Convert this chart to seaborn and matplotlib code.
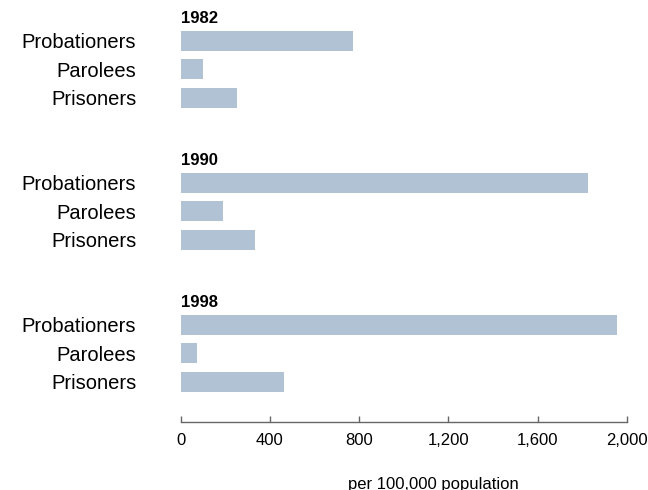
import matplotlib
matplotlib.use("Agg")
import matplotlib.pyplot as plt
import seaborn as sns
import pandas as pd

years = ["1982", "1990", "1998"]
measures = ["Probationers", "Parolees", "Prisoners"]
values_1982 = [771, 101, 251]
values_1990 = [1828, 190, 333]
values_1998 = [1955, 73, 462]
x_ticks = [0, 400, 800, 1200, 1600, 2000]
x_tick_labels = ["0", "400", "800", "1,200", "1,600", "2,000"]
x_label = "per 100,000 population"

sns.set_theme(style="white")
plt.rcParams["font.family"] = ["Liberation Sans", "DejaVu Sans"]
plt.rcParams["text.color"] = "black"
plt.rcParams["xtick.color"] = "#666666"
plt.rcParams["xtick.labelcolor"] = "black"
plt.rcParams["ytick.labelcolor"] = "black"

rows = []
for g, (yr, vals) in enumerate(zip(years, [values_1982, values_1990, values_1998])):
    for i, (m, v) in enumerate(zip(measures, vals)):
        rows.append({"year": yr, "measure": m, "value": v, "pos": g * 5 + i})
df = pd.DataFrame(rows)

fig = plt.figure(figsize=(6.48, 4.9), dpi=100)
ax = fig.add_axes([180.7 / 648, 68 / 490, 446 / 648, 422 / 490])

sns.barplot(data=df, x="value", y="pos", orient="h", native_scale=True,
            color="#b0c2d3", saturation=1, width=0.70, ax=ax, errorbar=None,
            linewidth=0)

ax.set_xlim(0, 2000)
ax.set_ylim(13.42, -1.44)
ax.set_yticks(df["pos"].tolist())
ax.set_yticklabels(df["measure"].tolist(), fontsize=14.5, color="black")
ax.tick_params(axis="y", left=False, length=0, pad=32)
ax.set_xticks(x_ticks)
ax.set_xticklabels(x_tick_labels, fontsize=12, color="black")
ax.tick_params(axis="x", bottom=True, direction="in", length=4, width=1,
               color="#666666", pad=8)
ax.set_xlabel("")
ax.set_ylabel("")
for s in ["top", "right", "left"]:
    ax.spines[s].set_visible(False)
ax.spines["bottom"].set_color("#666666")
ax.spines["bottom"].set_linewidth(1)

for g, yr in enumerate(years):
    ax.text(0, g * 5 - 0.80, yr, fontsize=12, fontweight="bold", ha="left",
            va="center", clip_on=False, color="black")

fig.text(433 / 648, (490 - 484) / 490, x_label, ha="center", va="center",
         fontsize=12, color="black")

fig.savefig("out.png", dpi=100)
